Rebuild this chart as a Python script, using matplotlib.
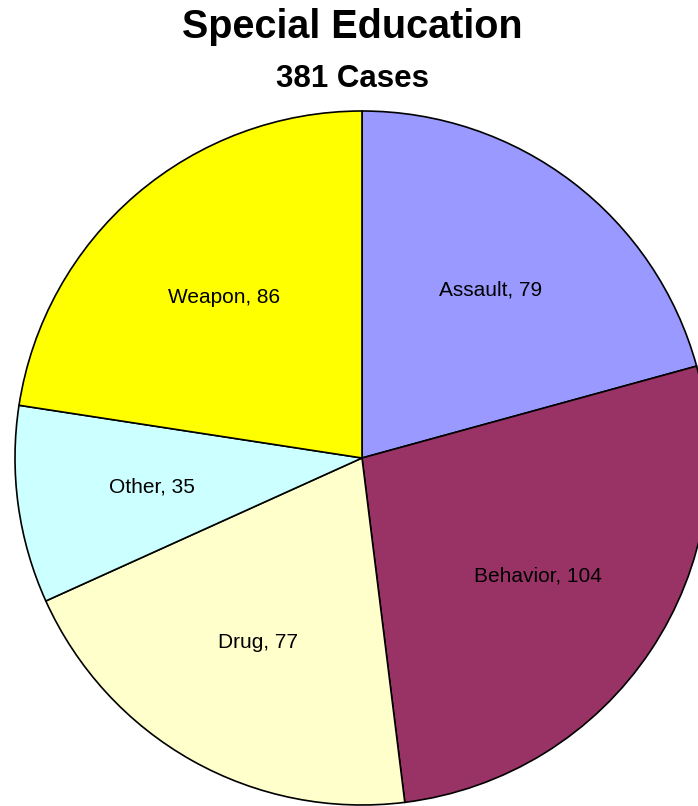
import matplotlib.pyplot as plt

plt.rcParams['font.family'] = ['Liberation Sans', 'DejaVu Sans']

# data
categories = ['Assault', 'Behavior', 'Drug', 'Other', 'Weapon']
cases = [79, 104, 77, 35, 86]
colors = ['#9999FF', '#993366', '#FFFFCC', '#CCFFFF', '#FFFF00']
title = 'Special Education'
subtitle = '381 Cases'

W, H = 698, 806
fig = plt.figure(figsize=(W / 100, H / 100), dpi=100)

# pie centre (362, 458) px, radius 347 px
cx, cy, r = 362, 458, 347
ax = fig.add_axes([(cx - r) / W, (H - cy - r) / H, 2 * r / W, 2 * r / H])
ax.set_xlim(-1, 1)
ax.set_ylim(-1, 1)
ax.set_aspect('equal')
ax.axis('off')

labels = [f'{c}, {v}' for c, v in zip(categories, cases)]
wedges, texts = ax.pie(cases, labels=labels, colors=colors, startangle=90,
                       counterclock=False, radius=1.0, labeldistance=0.61,
                       wedgeprops=dict(edgecolor='black', linewidth=1.2),
                       textprops=dict(fontsize=15, color='black'))
for t in texts:
    t.set_ha('center')
    t.set_va('center')
ax.set_xlim(-1, 1)
ax.set_ylim(-1, 1)

fig.text(352 / W, 1 - 38 / H, title, ha='center', va='baseline',
         fontsize=28.5, fontweight='bold')
fig.text(352 / W, 1 - 87 / H, subtitle, ha='center', va='baseline',
         fontsize=22.5, fontweight='bold')

fig.savefig('out.png', dpi=100, facecolor='white')
